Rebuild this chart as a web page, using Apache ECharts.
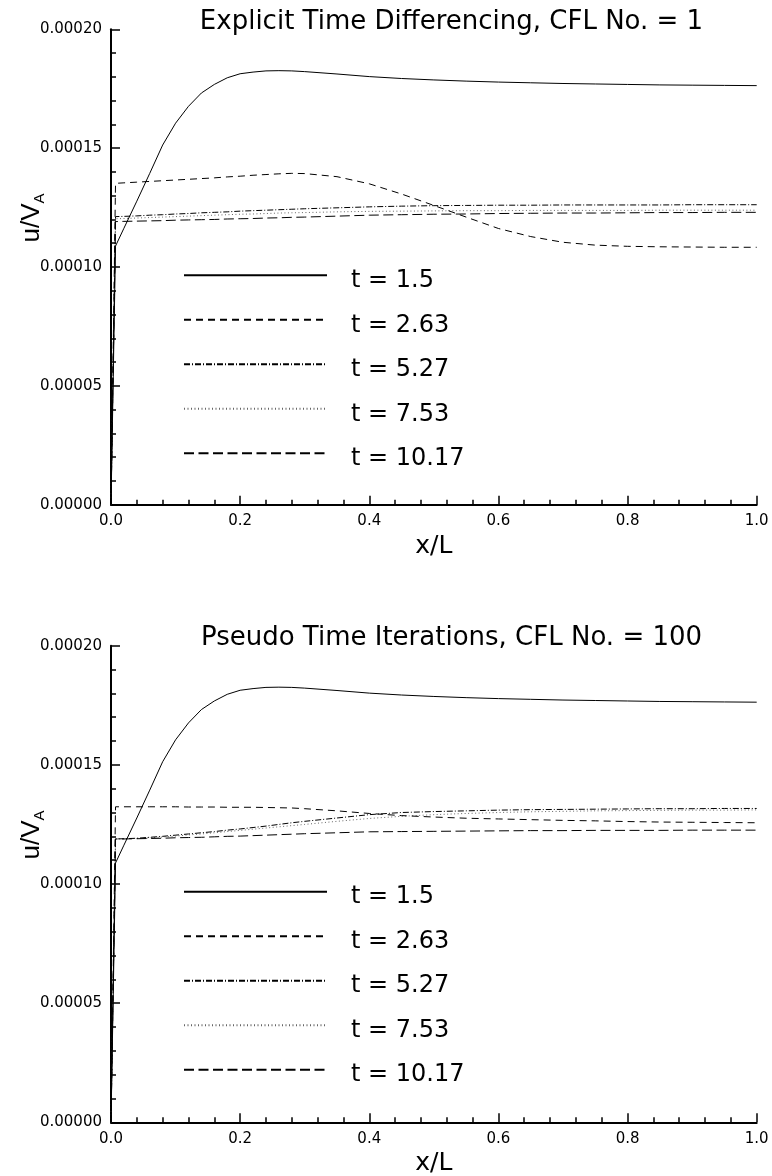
<!DOCTYPE html>
<html>
<head>
<meta charset="utf-8">
<title>u/V_A profiles</title>
<script src="https://cdn.jsdelivr.net/npm/echarts@6/dist/echarts.min.js"></script>
<style>
  html, body { margin: 0; padding: 0; background: #fff; }
  #chart { width: 772px; height: 1176px; }
</style>
</head>
<body>
<div id="chart"></div>
<script>
// Sample positions along x/L shared by every profile
const xPos = [0, 0.007, 0.02, 0.04, 0.06, 0.08, 0.10, 0.12, 0.14, 0.16, 0.18, 0.20, 0.22, 0.24, 0.26, 0.28, 0.30,
  0.35, 0.40, 0.45, 0.50, 0.55, 0.60, 0.65, 0.70, 0.75, 0.80, 0.85, 0.90, 0.95, 1.0];

const seriesNames = ['t = 1.5', 't = 2.63', 't = 5.27', 't = 7.53', 't = 10.17'];

// Explicit time differencing, CFL = 1
const explicitT150 = [0, 1.088e-4, 1.163e-4, 1.277e-4, 1.394e-4, 1.513e-4, 1.605e-4, 1.676e-4, 1.732e-4, 1.768e-4, 1.796e-4, 1.813e-4, 1.820e-4, 1.825e-4, 1.826e-4, 1.825e-4, 1.822e-4,
  1.812e-4, 1.801e-4, 1.793e-4, 1.787e-4, 1.782e-4, 1.778e-4, 1.775e-4, 1.772e-4, 1.770e-4, 1.768e-4, 1.766e-4, 1.765e-4, 1.764e-4, 1.763e-4];
const explicitT263 = [0, 1.352e-4, 1.354e-4, 1.357e-4, 1.360e-4, 1.363e-4, 1.366e-4, 1.369e-4, 1.372e-4, 1.375e-4, 1.379e-4, 1.382e-4, 1.386e-4, 1.389e-4, 1.392e-4, 1.394e-4, 1.393e-4,
  1.380e-4, 1.350e-4, 1.307e-4, 1.259e-4, 1.210e-4, 1.162e-4, 1.128e-4, 1.104e-4, 1.092e-4, 1.087e-4, 1.085e-4, 1.084e-4, 1.083e-4, 1.083e-4];
const explicitT527 = [0, 1.212e-4, 1.213e-4, 1.215e-4, 1.218e-4, 1.220e-4, 1.223e-4, 1.225e-4, 1.228e-4, 1.230e-4, 1.232e-4, 1.235e-4, 1.237e-4, 1.239e-4, 1.241e-4, 1.243e-4, 1.245e-4,
  1.249e-4, 1.253e-4, 1.256e-4, 1.258e-4, 1.259e-4, 1.260e-4, 1.260e-4, 1.261e-4, 1.261e-4, 1.261e-4, 1.261e-4, 1.262e-4, 1.262e-4, 1.262e-4];
const explicitT753 = [0, 1.203e-4, 1.204e-4, 1.206e-4, 1.208e-4, 1.210e-4, 1.212e-4, 1.214e-4, 1.216e-4, 1.218e-4, 1.220e-4, 1.222e-4, 1.223e-4, 1.225e-4, 1.227e-4, 1.228e-4, 1.229e-4,
  1.232e-4, 1.234e-4, 1.235e-4, 1.236e-4, 1.237e-4, 1.237e-4, 1.238e-4, 1.238e-4, 1.238e-4, 1.238e-4, 1.239e-4, 1.239e-4, 1.239e-4, 1.239e-4];
const explicitT1017 = [0, 1.191e-4, 1.192e-4, 1.193e-4, 1.194e-4, 1.195e-4, 1.197e-4, 1.198e-4, 1.199e-4, 1.200e-4, 1.202e-4, 1.203e-4, 1.204e-4, 1.206e-4, 1.207e-4, 1.209e-4, 1.210e-4,
  1.214e-4, 1.218e-4, 1.220e-4, 1.222e-4, 1.223e-4, 1.225e-4, 1.226e-4, 1.227e-4, 1.227e-4, 1.228e-4, 1.229e-4, 1.229e-4, 1.230e-4, 1.230e-4];

// Pseudo time iterations, CFL = 100
const pseudoT150 = [0, 1.088e-4, 1.163e-4, 1.277e-4, 1.394e-4, 1.513e-4, 1.605e-4, 1.676e-4, 1.732e-4, 1.768e-4, 1.796e-4, 1.813e-4, 1.820e-4, 1.825e-4, 1.826e-4, 1.825e-4, 1.822e-4,
  1.812e-4, 1.801e-4, 1.793e-4, 1.787e-4, 1.782e-4, 1.778e-4, 1.775e-4, 1.772e-4, 1.770e-4, 1.768e-4, 1.766e-4, 1.765e-4, 1.764e-4, 1.763e-4];
const pseudoT263 = [0, 1.324e-4, 1.324e-4, 1.324e-4, 1.324e-4, 1.324e-4, 1.324e-4, 1.323e-4, 1.323e-4, 1.323e-4, 1.322e-4, 1.322e-4, 1.322e-4, 1.321e-4, 1.320e-4, 1.319e-4, 1.316e-4,
  1.307e-4, 1.296e-4, 1.287e-4, 1.281e-4, 1.276e-4, 1.273e-4, 1.270e-4, 1.267e-4, 1.265e-4, 1.262e-4, 1.260e-4, 1.259e-4, 1.258e-4, 1.257e-4];
const pseudoT527 = [0, 1.189e-4, 1.190e-4, 1.192e-4, 1.196e-4, 1.200e-4, 1.205e-4, 1.210e-4, 1.215e-4, 1.220e-4, 1.226e-4, 1.231e-4, 1.237e-4, 1.243e-4, 1.250e-4, 1.257e-4, 1.263e-4,
  1.277e-4, 1.291e-4, 1.300e-4, 1.304e-4, 1.307e-4, 1.310e-4, 1.312e-4, 1.313e-4, 1.314e-4, 1.315e-4, 1.316e-4, 1.316e-4, 1.317e-4, 1.317e-4];
const pseudoT753 = [0, 1.189e-4, 1.190e-4, 1.191e-4, 1.194e-4, 1.197e-4, 1.201e-4, 1.206e-4, 1.210e-4, 1.215e-4, 1.220e-4, 1.225e-4, 1.230e-4, 1.235e-4, 1.240e-4, 1.245e-4, 1.250e-4,
  1.263e-4, 1.275e-4, 1.284e-4, 1.291e-4, 1.296e-4, 1.300e-4, 1.303e-4, 1.305e-4, 1.307e-4, 1.308e-4, 1.309e-4, 1.310e-4, 1.310e-4, 1.311e-4];
const pseudoT1017 = [0, 1.189e-4, 1.189e-4, 1.190e-4, 1.191e-4, 1.192e-4, 1.194e-4, 1.195e-4, 1.196e-4, 1.198e-4, 1.200e-4, 1.201e-4, 1.203e-4, 1.205e-4, 1.207e-4, 1.209e-4, 1.211e-4,
  1.215e-4, 1.219e-4, 1.220e-4, 1.221e-4, 1.222e-4, 1.223e-4, 1.224e-4, 1.224e-4, 1.225e-4, 1.225e-4, 1.225e-4, 1.226e-4, 1.226e-4, 1.226e-4];

const xTickInterval = 0.2;
const yTickInterval = 0.00005;
const panelTitles = ['Explicit Time Differencing, CFL No. = 1', 'Pseudo Time Iterations, CFL No. = 100'];

// Line patterns for the five times
const lineStyles = [
  { type: 'solid', color: '#000', width: 1 },
  { type: [7, 5], color: '#000', width: 1 },
  { type: [6, 2, 1, 2], color: '#000', width: 1 },
  { type: [1, 2.5], color: '#666', width: 1 },
  { type: [10, 4.5], color: '#000', width: 1 }
];

const SANS = 'DejaVu Sans';
const ARIAL = 'Liberation Sans';

const panelTops = [29.3, 645.7];
const panelHeights = [475.4, 476.6];

function zipXY(vals) {
  return xPos.map((x, i) => [x, vals[i]]);
}

function xAxisFor(i) {
  return {
    type: 'value', gridIndex: i, min: 0, max: 1, interval: xTickInterval,
    name: 'x/L', nameLocation: 'middle', nameGap: 29, nameMoveOverlap: false,
    nameTextStyle: { fontFamily: SANS, fontSize: 25, color: '#000' },
    axisLine: { show: true, lineStyle: { color: '#000', width: 2 } },
    axisTick: { show: true, inside: true, length: 9, lineStyle: { color: '#000', width: 1.5 } },
    minorTick: { show: true, splitNumber: 5, length: 5, lineStyle: { color: '#000', width: 1.5 } },
    splitLine: { show: false },
    axisLabel: { margin: 9, fontFamily: SANS, fontSize: 15, color: '#000', formatter: v => v.toFixed(1) }
  };
}

function yAxisFor(i) {
  return {
    type: 'value', gridIndex: i, min: 0, max: 0.0002, interval: yTickInterval,
    name: '{u|u/V}{s|A}', nameLocation: 'middle', nameGap: 64, nameMoveOverlap: false,
    nameTextStyle: {
      padding: [0, 0, 0, 98],
      rich: {
        u: { fontFamily: ARIAL, fontSize: 26, lineHeight: 30, color: '#000' },
        s: { fontFamily: ARIAL, fontSize: 15, lineHeight: 20, verticalAlign: 'bottom', color: '#000' }
      }
    },
    axisLine: { show: true, lineStyle: { color: '#000', width: 2 } },
    axisTick: { show: true, inside: true, length: 9, lineStyle: { color: '#000', width: 1.5 } },
    minorTick: { show: true, splitNumber: 5, length: 5, lineStyle: { color: '#000', width: 1.5 } },
    splitLine: { show: false },
    axisLabel: { margin: 9, fontFamily: SANS, fontSize: 15, color: '#000', formatter: v => v.toFixed(5) }
  };
}

const panelData = [
  [explicitT150, explicitT263, explicitT527, explicitT753, explicitT1017],
  [pseudoT150, pseudoT263, pseudoT527, pseudoT753, pseudoT1017]
];

const series = [];
panelData.forEach((list, p) => {
  list.forEach((vals, k) => {
    series.push({
      type: 'line', name: seriesNames[k], xAxisIndex: p, yAxisIndex: p,
      data: zipXY(vals), symbol: 'none', showSymbol: false, smooth: false,
      lineStyle: lineStyles[k], itemStyle: { color: lineStyles[k].color },
      z: k === 3 ? 1 : 2
    });
  });
});

function legendFor(p) {
  return {
    orient: 'vertical', left: 183, top: panelTops[p] + 228.5, padding: 0,
    itemWidth: 143, itemHeight: 10, itemGap: 9.5,
    data: seriesNames, selectedMode: false,
    itemStyle: { opacity: 0, borderWidth: 0 },
    formatter: n => '{t|' + n + '}',
    textStyle: {
      rich: { t: { fontFamily: SANS, fontSize: 24, lineHeight: 20, padding: [11, 0, 0, 19], color: '#000' } }
    }
  };
}

const option = {
  animation: false,
  backgroundColor: '#fff',
  title: panelTitles.map((t, p) => ({
    text: t, left: 451.5, top: panelTops[p] - 20.5, textAlign: 'center', padding: 0,
    textStyle: { fontFamily: SANS, fontSize: 26, fontWeight: 'normal', color: '#000' }
  })),
  legend: [legendFor(0), legendFor(1)],
  grid: panelTops.map((t, p) => ({
    left: 111, right: 15.3, top: t, height: panelHeights[p],
    containLabel: false, outerBoundsMode: 'none'
  })),
  xAxis: [xAxisFor(0), xAxisFor(1)],
  yAxis: [yAxisFor(0), yAxisFor(1)],
  series: series
};

const chart = echarts.init(document.getElementById('chart'), null, { renderer: 'canvas' });
chart.setOption(option);
</script>
</body>
</html>
